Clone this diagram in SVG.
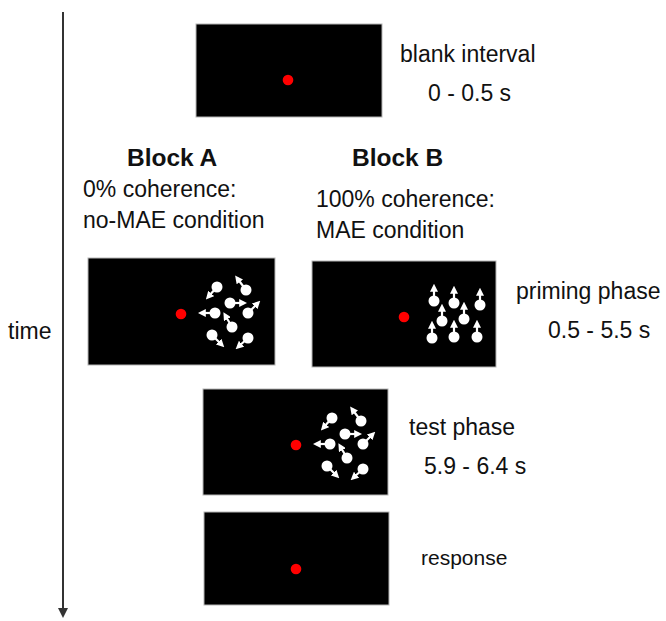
<svg xmlns="http://www.w3.org/2000/svg" xmlns:xlink="http://www.w3.org/1999/xlink" width="666" height="621" viewBox="0 0 666 621">
  <style>
    .screen { fill: #000; stroke: #b5b5b5; stroke-width: 1; }
    .fix { fill: #f00; }
    .dot { fill: #fff; }
    .vec { stroke: #fff; stroke-width: 2.2; fill: none; marker-end: url(#tip); }
    .lbl { font-family: "Liberation Sans", Arial, sans-serif; font-size: 23px; fill: #111; }
    .head { font-family: "Liberation Sans", Arial, sans-serif; font-size: 24.5px; font-weight: bold; fill: #111; }
  </style>
  <defs>
    <marker id="tip" viewBox="0 0 10 10" refX="6" refY="5" markerWidth="8" markerHeight="8" markerUnits="userSpaceOnUse" orient="auto">
      <path d="M0,0 L10,5 L0,10 z" fill="#fff"/>
    </marker>
    <marker id="timeTip" viewBox="0 0 10 10" refX="2" refY="5" markerWidth="10" markerHeight="10" markerUnits="userSpaceOnUse" orient="auto">
      <path d="M0,0 L10,5 L0,10 z" fill="#333"/>
    </marker>
    <!-- random-direction dot field (0% coherence), coordinates relative to the screen's fixation point -->
    <g id="randomField">
      <line class="vec" x1="36" y1="-27" x2="27" y2="-17"/>
      <line class="vec" x1="65" y1="-24" x2="56" y2="-36"/>
      <line class="vec" x1="49" y1="-11" x2="63" y2="-11"/>
      <line class="vec" x1="34" y1="-1" x2="20" y2="-1"/>
      <line class="vec" x1="67" y1="-1" x2="77" y2="-11"/>
      <line class="vec" x1="51" y1="13" x2="44" y2="1"/>
      <line class="vec" x1="31" y1="21" x2="41" y2="31"/>
      <line class="vec" x1="67" y1="24" x2="57" y2="33"/>
      <circle class="dot" cx="36" cy="-27" r="5.5"/>
      <circle class="dot" cx="65" cy="-24" r="5.5"/>
      <circle class="dot" cx="49" cy="-11" r="5.5"/>
      <circle class="dot" cx="34" cy="-1" r="5.5"/>
      <circle class="dot" cx="67" cy="-1" r="5.5"/>
      <circle class="dot" cx="51" cy="13" r="5.5"/>
      <circle class="dot" cx="31" cy="21" r="5.5"/>
      <circle class="dot" cx="67" cy="24" r="5.5"/>
    </g>
  </defs>

  <rect width="666" height="621" fill="#fff"/>

  <!-- time axis -->
  <g id="connectors">
    <line x1="63" y1="12" x2="63" y2="610" stroke="#333" stroke-width="2" marker-end="url(#timeTip)"/>
  </g>
  <text class="lbl" x="8" y="339">time</text>

  <!-- blank interval -->
  <g id="blank">
    <rect class="screen" x="196" y="24" width="186" height="93"/>
    <circle class="fix" cx="288" cy="80" r="5.3"/>
    <text class="lbl" x="400" y="62">blank interval</text>
    <text class="lbl" x="428" y="101">0 - 0.5 s</text>
  </g>

  <!-- block A: incoherent priming -->
  <g id="blockA">
    <text class="head" x="127" y="166">Block A</text>
    <text class="lbl" x="83" y="197">0% coherence:</text>
    <text class="lbl" x="83" y="228">no-MAE condition</text>
    <rect class="screen" x="88" y="258" width="187" height="107"/>
    <circle class="fix" cx="181" cy="314" r="5.3"/>
    <use xlink:href="#randomField" transform="translate(181,314)"/>
  </g>

  <!-- block B: coherent upward priming -->
  <g id="blockB">
    <text class="head" x="352" y="166">Block B</text>
    <text class="lbl" x="316" y="207">100% coherence:</text>
    <text class="lbl" x="316" y="238">MAE condition</text>
    <rect class="screen" x="312" y="261" width="184" height="106"/>
    <circle class="fix" cx="404" cy="317" r="5.3"/>
    <g>
      <line class="vec" x1="434" y1="301" x2="434" y2="287"/>
      <line class="vec" x1="454" y1="303" x2="454" y2="289"/>
      <line class="vec" x1="480" y1="305" x2="480" y2="291"/>
      <line class="vec" x1="442" y1="321" x2="442" y2="307"/>
      <line class="vec" x1="464" y1="319" x2="464" y2="305"/>
      <line class="vec" x1="432" y1="338" x2="432" y2="324"/>
      <line class="vec" x1="454" y1="337" x2="454" y2="323"/>
      <line class="vec" x1="477" y1="337" x2="477" y2="323"/>
      <circle class="dot" cx="434" cy="301" r="5.5"/>
      <circle class="dot" cx="454" cy="303" r="5.5"/>
      <circle class="dot" cx="480" cy="305" r="5.5"/>
      <circle class="dot" cx="442" cy="321" r="5.5"/>
      <circle class="dot" cx="464" cy="319" r="5.5"/>
      <circle class="dot" cx="432" cy="338" r="5.5"/>
      <circle class="dot" cx="454" cy="337" r="5.5"/>
      <circle class="dot" cx="477" cy="337" r="5.5"/>
    </g>
    <text class="lbl" x="516" y="299">priming phase</text>
    <text class="lbl" x="548" y="338">0.5 - 5.5 s</text>
  </g>

  <!-- test phase -->
  <g id="test">
    <rect class="screen" x="203" y="389" width="185" height="106"/>
    <circle class="fix" cx="296" cy="445" r="5.3"/>
    <use xlink:href="#randomField" transform="translate(296,445)"/>
    <text class="lbl" x="409" y="435">test phase</text>
    <text class="lbl" x="424" y="474">5.9 - 6.4 s</text>
  </g>

  <!-- response -->
  <g id="response">
    <rect class="screen" x="204" y="512" width="185" height="93"/>
    <circle class="fix" cx="296" cy="569" r="5.3"/>
    <text class="lbl" x="421" y="565" style="font-size:21px">response</text>
  </g>
</svg>
